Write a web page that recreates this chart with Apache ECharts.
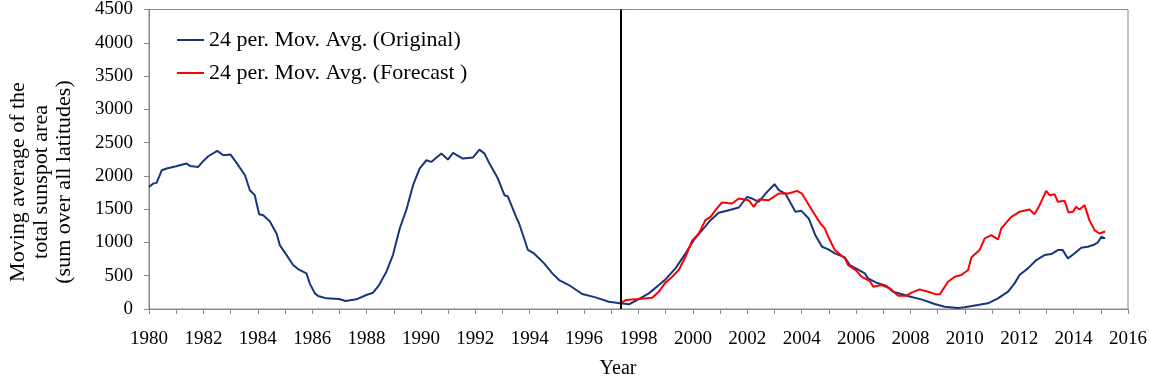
<!DOCTYPE html>
<html>
<head>
<meta charset="utf-8">
<script src="https://cdn.jsdelivr.net/npm/echarts@6/dist/echarts.min.js"></script>
<style>
html,body{margin:0;padding:0;background:#fff;}
#c{width:1150px;height:377px;}
</style>
</head>
<body>
<div id="c"></div>
<script>
// ---- data ----
const yTicks = [0, 500, 1000, 1500, 2000, 2500, 3000, 3500, 4000, 4500];
const xRange = [1980, 2016];
const forecastStartYear = 1997.33;
const seriesNames = ['24 per. Mov. Avg. (Original)', '24 per. Mov. Avg. (Forecast )'];

const originalYears = [1980.00,1980.16,1980.28,1980.47,1980.65,1981.00,1981.38,1981.51,1981.81,1982.00,1982.18,1982.51,1982.73,1983.00,1983.22,1983.53,1983.71,1983.89,1984.05,1984.20,1984.44,1984.69,1984.81,1985.06,1985.30,1985.48,1985.79,1985.91,1986.10,1986.22,1986.52,1986.99,1987.23,1987.63,1987.99,1988.24,1988.46,1988.73,1988.97,1989.22,1989.46,1989.71,1989.95,1990.20,1990.38,1990.75,1990.99,1991.18,1991.54,1991.91,1992.15,1992.34,1992.52,1992.83,1993.07,1993.19,1993.50,1993.61,1993.93,1994.16,1994.53,1994.83,1995.08,1995.44,1995.93,1996.42,1996.91,1997.32,1997.65,1998.01,1998.38,1998.75,1998.99,1999.36,1999.73,2000.03,2000.34,2000.65,2000.95,2001.32,2001.69,2001.99,2002.18,2002.42,2002.73,2003.00,2003.16,2003.40,2003.77,2003.99,2004.26,2004.50,2004.75,2004.98,2005.22,2005.59,2005.77,2005.99,2006.32,2006.44,2006.75,2007.12,2007.36,2007.79,2008.00,2008.40,2008.89,2009.26,2009.75,2009.99,2010.48,2010.85,2011.22,2011.59,2011.83,2012.01,2012.32,2012.63,2012.93,2013.18,2013.42,2013.60,2013.79,2014.03,2014.28,2014.52,2014.77,2014.89,2015.02,2015.16];
const originalValues = [1835,1885,1895,2085,2110,2145,2185,2150,2135,2225,2295,2375,2310,2320,2195,2010,1785,1710,1425,1410,1320,1135,960,810,660,600,535,385,235,195,160,150,120,145,210,245,360,560,810,1210,1485,1860,2110,2235,2210,2335,2245,2345,2260,2275,2395,2335,2185,1960,1710,1695,1385,1285,890,835,685,535,435,360,225,175,110,85,70,150,235,360,445,610,835,1035,1185,1335,1445,1485,1525,1685,1660,1610,1760,1875,1785,1735,1460,1475,1360,1110,935,895,835,775,660,610,535,460,395,345,260,210,185,145,75,35,15,25,60,85,160,260,385,510,610,735,810,825,885,885,760,835,920,935,970,1000,1085,1060];

const forecastYears = [1997.32,1997.53,1998.01,1998.50,1998.75,1998.99,1999.24,1999.48,1999.73,1999.97,2000.22,2000.46,2000.65,2000.83,2001.07,2001.44,2001.69,2002.05,2002.24,2002.42,2002.79,2003.16,2003.52,2003.83,2004.01,2004.38,2004.69,2004.85,2004.98,2005.22,2005.34,2005.59,2005.71,2005.99,2006.20,2006.51,2006.63,2006.93,2007.24,2007.55,2007.85,2008.04,2008.34,2008.65,2008.95,2009.08,2009.38,2009.63,2009.87,2010.12,2010.24,2010.54,2010.73,2010.97,2011.22,2011.34,2011.71,2012.01,2012.38,2012.56,2012.75,2012.99,2013.12,2013.30,2013.42,2013.67,2013.81,2013.97,2014.09,2014.22,2014.40,2014.58,2014.77,2014.95,2015.16];
const forecastValues = [85,135,150,170,260,395,485,585,785,1025,1135,1335,1385,1485,1600,1585,1660,1635,1535,1645,1635,1735,1735,1775,1735,1485,1285,1210,1085,885,845,760,660,585,485,420,335,360,310,200,200,245,295,260,220,220,410,485,510,585,775,885,1060,1110,1045,1210,1385,1460,1495,1425,1560,1775,1710,1725,1610,1625,1450,1460,1535,1495,1560,1335,1185,1135,1165];

// ---- chart ----
const FONT = '"Liberation Serif", "Times New Roman", serif';
const pair = (xs, ys) => xs.map((x, i) => [x, ys[i]]);

const chart = echarts.init(document.getElementById('c'), null, {renderer: 'canvas'});
chart.setOption({
  animation: false,
  backgroundColor: '#fff',
  grid: {left: 149, right: 21, top: 9, bottom: 68, show: true, borderColor: '#888', borderWidth: 1},
  legend: {
    orient: 'vertical', left: 177, top: 29, padding: 0,
    itemWidth: 27, itemHeight: 2, itemGap: 11, icon: 'rect',
    textStyle: {fontFamily: FONT, fontSize: 22, color: '#000', lineHeight: 22},
    data: seriesNames
  },
  xAxis: {
    type: 'value', min: xRange[0], max: xRange[1], interval: 1,
    axisLine: {show: true, lineStyle: {color: '#888', width: 1}},
    axisTick: {show: true, length: 5, lineStyle: {color: '#888'}},
    splitLine: {show: false},
    axisLabel: {
      margin: 21, color: '#000', fontFamily: FONT, fontSize: 19,
      formatter: v => (v % 2 === 0 ? String(v) : '')
    }
  },
  yAxis: {
    type: 'value', min: yTicks[0], max: yTicks[yTicks.length - 1], interval: 500,
    axisLine: {show: true, lineStyle: {color: '#888', width: 1}},
    axisTick: {show: true, length: 5, lineStyle: {color: '#888'}},
    splitLine: {show: false},
    axisLabel: {margin: 16, color: '#000', fontFamily: FONT, fontSize: 19,
                formatter: v => String(v)}
  },
  graphic: [
    {type: 'text', x: 41, y: 182, rotation: Math.PI / 2,
     style: {text: 'Moving average of the\ntotal sunspot area\n(sum over all latitudes)',
             fontFamily: FONT, fontSize: 22, lineHeight: 23, fill: '#000',
             align: 'center', verticalAlign: 'middle'}},
    {type: 'text', x: 618, y: 369,
     style: {text: 'Year', fontFamily: FONT, fontSize: 20, fill: '#000',
             align: 'center', verticalAlign: 'middle'}}
  ],
  series: [
    {
      name: seriesNames[0], type: 'line', data: pair(originalYears, originalValues),
      showSymbol: false, symbol: 'none', smooth: false,
      lineStyle: {color: '#17367D', width: 2}, itemStyle: {color: '#17367D'},
      markLine: {
        silent: true, symbol: ['none', 'none'], label: {show: false},
        lineStyle: {color: '#000', width: 2, type: 'solid'},
        data: [{xAxis: forecastStartYear}]
      }
    },
    {
      name: seriesNames[1], type: 'line', data: pair(forecastYears, forecastValues),
      showSymbol: false, symbol: 'none', smooth: false,
      lineStyle: {color: '#FF0000', width: 2}, itemStyle: {color: '#FF0000'}
    }
  ]
});
</script>
</body>
</html>
